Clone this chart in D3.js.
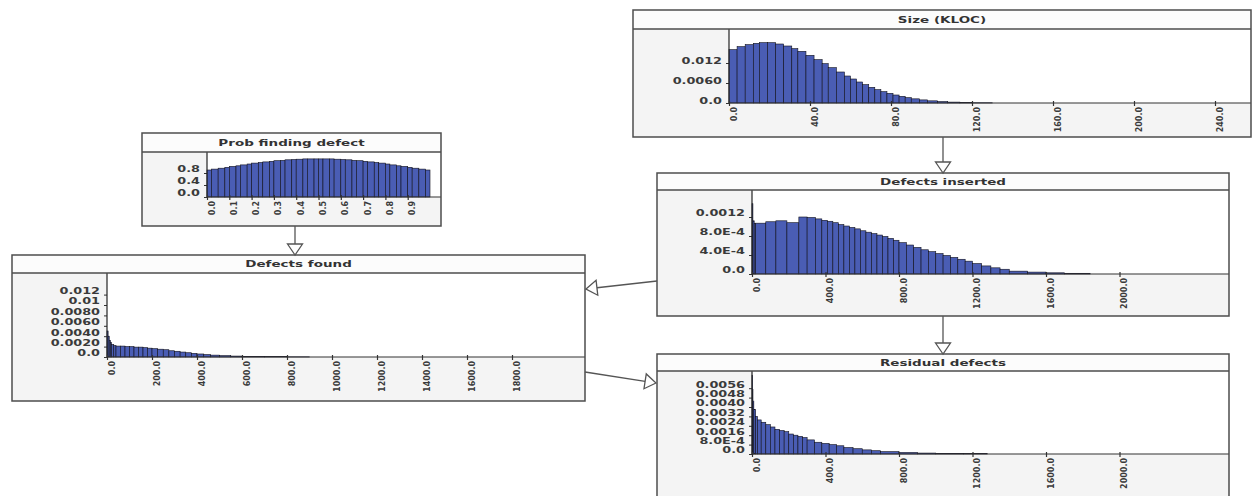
<!DOCTYPE html>
<html>
<head>
<meta charset="utf-8">
<script src="https://cdn.jsdelivr.net/npm/d3@7"></script>
<style>
  html, body { margin: 0; padding: 0; background: #ffffff; }
  svg { display: block; }
</style>
</head>
<body>
<svg id="chart" width="1257" height="496"></svg>
<script>
// ---------------- DATA ----------------
// Size (KLOC)
const sizeEdges = [0,4,8,12,15,19,23,27,31,34,38,42,46,49,53,57,60,63,66,69,72,75,78,81,84,87,90,94,98,103,108,114,120,130];
const sizeDensity = [0.0160,0.0169,0.0175,0.0179,0.0181,0.0181,0.0177,0.0171,0.0163,0.0155,0.0143,0.0130,0.0118,0.0106,0.0093,0.0081,0.0072,0.0063,0.0055,0.0047,0.0040,0.0034,0.0029,0.0024,0.0020,0.0016,0.00125,0.00093,0.00065,0.00043,0.00027,0.00015,0.00007];
const sizeXTicks = [0,40,80,120,160,200,240];
const sizeXLabels = ["0.0","40.0","80.0","120.0","160.0","200.0","240.0"];
const sizeYTicks = [0,0.006,0.012];
const sizeYLabels = ["0.0","0.0060","0.012"];

// Prob finding defect
const probEdges = [0,0.02,0.05,0.08,0.1,0.13,0.15,0.18,0.2,0.23,0.25,0.28,0.3,0.33,0.35,0.38,0.4,0.43,0.45,0.48,0.5,0.52,0.55,0.57,0.6,0.62,0.65,0.67,0.7,0.72,0.75,0.77,0.8,0.82,0.85,0.87,0.9,0.92,0.95,0.98,1.0];
const probDensity = [0.90,0.93,0.96,0.99,1.02,1.04,1.07,1.10,1.13,1.15,1.17,1.19,1.21,1.22,1.24,1.25,1.26,1.27,1.27,1.27,1.27,1.27,1.27,1.26,1.25,1.24,1.22,1.21,1.19,1.17,1.15,1.13,1.10,1.07,1.04,1.02,0.99,0.96,0.93,0.90];
const probXTicks = [0,0.1,0.2,0.3,0.4,0.5,0.6,0.7,0.8,0.9];
const probXLabels = ["0.0","0.1","0.2","0.3","0.4","0.5","0.6","0.7","0.8","0.9"];
const probYTicks = [0,0.4,0.8];
const probYLabels = ["0.0","0.4","0.8"];

// Defects found
const foundEdges = [0,5,10,15,20,30,40,60,80,100,120,140,160,180,200,225,250,275,300,325,350,375,400,430,460,500,550,600,700,800,900];
const foundDensity = [0.0050,0.0040,0.0032,0.0028,0.0024,0.0022,0.0021,0.0021,0.0020,0.0020,0.0019,0.0019,0.0018,0.0017,0.0016,0.0015,0.0014,0.0012,0.0011,0.00095,0.00082,0.0007,0.00058,0.00047,0.00036,0.00026,0.00018,0.00011,0.00006,0.00003];
const foundXTicks = [0,200,400,600,800,1000,1200,1400,1600,1800];
const foundXLabels = ["0.0","200.0","400.0","600.0","800.0","1000.0","1200.0","1400.0","1600.0","1800.0"];
const foundYTicks = [0,0.002,0.004,0.006,0.008,0.01,0.012];
const foundYLabels = ["0.0","0.0020","0.0040","0.0060","0.0080","0.01","0.012"];

// Defects inserted
const insertedEdges = [0,5,12,20,75,130,190,255,300,345,380,410,440,470,500,530,560,590,620,650,680,710,740,770,800,840,880,920,960,1000,1040,1080,1120,1160,1200,1250,1300,1350,1400,1500,1600,1700,1840];
const insertedDensity = [0.00148,0.00112,0.00106,0.00107,0.00110,0.00112,0.00108,0.00120,0.00119,0.00116,0.00113,0.00111,0.00108,0.00104,0.00101,0.00098,0.00095,0.00091,0.00088,0.00085,0.00082,0.00079,0.00075,0.00071,0.00066,0.00061,0.00056,0.00051,0.00047,0.00043,0.00039,0.00035,0.00031,0.00027,0.00022,0.00017,0.00013,0.0001,0.00006,0.00004,0.000025,0.000015];
const insertedXTicks = [0,400,800,1200,1600,2000];
const insertedXLabels = ["0.0","400.0","800.0","1200.0","1600.0","2000.0"];
const insertedYTicks = [0,0.0004,0.0008,0.0012];
const insertedYLabels = ["0.0","4.0E-4","8.0E-4","0.0012"];

// Residual defects
const residualEdges = [0,2,5,10,20,30,50,75,100,125,150,175,200,225,250,275,300,340,380,420,460,500,550,600,650,700,800,900,1000,1150,1280];
const residualDensity = [0.0067,0.0055,0.0045,0.0038,0.0032,0.0029,0.0027,0.0025,0.0023,0.0021,0.0020,0.0019,0.0017,0.0016,0.0015,0.0014,0.0012,0.0010,0.0009,0.0008,0.0007,0.00055,0.00045,0.00035,0.00028,0.0002,0.00013,0.00008,0.00005,0.00003];
const residualXTicks = [0,400,800,1200,1600,2000];
const residualXLabels = ["0.0","400.0","800.0","1200.0","1600.0","2000.0"];
const residualYTicks = [0,0.0008,0.0016,0.0024,0.0032,0.004,0.0048,0.0056];
const residualYLabels = ["0.0","8.0E-4","0.0016","0.0024","0.0032","0.0040","0.0048","0.0056"];

// ---------------- DRAWING ----------------
const svg = d3.select("#chart");
const FONT = "'DejaVu Sans', Verdana, sans-serif";
const BORDER = "#4d4d4d";

function drawNode(cfg) {
  const g = svg.append("g");
  const w = cfg.right - cfg.left, h = cfg.bottom - cfg.top;

  g.append("rect").attr("x", cfg.left).attr("y", cfg.top).attr("width", w).attr("height", h)
    .attr("fill", "#f4f4f4");
  g.append("rect").attr("x", cfg.left).attr("y", cfg.top).attr("width", w).attr("height", cfg.sep - cfg.top)
    .attr("fill", "#fcfcfc");
  g.append("rect").attr("x", cfg.axisX).attr("y", cfg.sep).attr("width", cfg.right - cfg.axisX)
    .attr("height", cfg.base - cfg.sep).attr("fill", "#ffffff");

  const x = d3.scaleLinear().domain([0, cfg.xMax]).range([cfg.axisX, cfg.xMaxPx]);
  const yMax = cfg.yTicks[cfg.yTicks.length - 1];
  const y = d3.scaleLinear().domain([0, yMax]).range([cfg.base, cfg.yMaxPx]);

  const bins = cfg.values.map((v, i) => ({ x0: cfg.edges[i], x1: cfg.edges[i + 1], v: v }));
  g.append("g").selectAll("rect").data(bins).join("rect")
    .attr("x", d => x(d.x0))
    .attr("width", d => Math.max(0.6, x(d.x1) - x(d.x0)))
    .attr("y", d => y(d.v))
    .attr("height", d => cfg.base - y(d.v))
    .attr("fill", "#4a5db4")
    .attr("stroke", "#10101c")
    .attr("stroke-width", 0.6);

  // Y axis
  const ya = g.append("g").attr("transform", `translate(${cfg.axisX},0)`)
    .call(d3.axisLeft(y).tickValues(cfg.yTicks).tickFormat((d, i) => cfg.yLabels[i]).tickSize(3).tickSizeOuter(0));
  ya.select(".domain").remove();
  ya.selectAll(".tick line").attr("stroke", "#333");
  ya.selectAll(".tick text")
    .attr("font-family", FONT).attr("font-size", 8).attr("font-weight", "bold").attr("fill", "#3a3a3a")
    .attr("text-anchor", "end")
    .attr("x", -7 / 1.6).attr("y", -cfg.lift).attr("dy", "0.35em")
    .attr("transform", "scale(1.6,1)");
  g.append("line").attr("x1", cfg.axisX).attr("x2", cfg.axisX).attr("y1", cfg.sep).attr("y2", cfg.base)
    .attr("stroke", "#222").attr("stroke-width", 1.2);

  // X axis
  const xa = g.append("g").attr("transform", `translate(0,${cfg.base})`)
    .call(d3.axisBottom(x).tickValues(cfg.xTicks).tickFormat((d, i) => cfg.xLabels[i]).tickSize(3).tickSizeOuter(0));
  xa.select(".domain").remove();
  xa.selectAll(".tick line").attr("stroke", "#333").attr("y1", -2).attr("stroke-width", 1.2);
  xa.selectAll(".tick text")
    .attr("font-family", FONT).attr("font-size", 8).attr("font-weight", "bold").attr("fill", "#3a3a3a")
    .attr("text-anchor", "end")
    .attr("transform", "rotate(-90)")
    .attr("x", -4).attr("y", 7).attr("dy", 0);
  g.append("line").attr("x1", cfg.axisX).attr("x2", cfg.right).attr("y1", cfg.base).attr("y2", cfg.base)
    .attr("stroke", "#333").attr("stroke-width", 1.2);

  // Title
  g.append("line").attr("x1", cfg.left).attr("x2", cfg.right).attr("y1", cfg.sep).attr("y2", cfg.sep)
    .attr("stroke", BORDER).attr("stroke-width", 1.3);
  g.append("g").attr("transform", `translate(${(cfg.left + cfg.right) / 2},${(cfg.top + cfg.sep) / 2}) scale(1.5,1)`)
    .append("text").attr("text-anchor", "middle").attr("dy", "0.35em")
    .attr("font-family", FONT).attr("font-size", 9).attr("font-weight", "bold").attr("fill", "#333")
    .text(cfg.title);

  // Border
  g.append("rect").attr("x", cfg.left).attr("y", cfg.top).attr("width", w).attr("height", h)
    .attr("fill", "none").attr("stroke", BORDER).attr("stroke-width", 1.5);
}

function arrow(x1, y1, x2, y2) {
  const L = 11, W = 7.5;
  const dx = x2 - x1, dy = y2 - y1, len = Math.hypot(dx, dy);
  const ux = dx / len, uy = dy / len;
  const bx = x2 - ux * L, by = y2 - uy * L;
  svg.append("line").attr("x1", x1).attr("y1", y1).attr("x2", bx).attr("y2", by)
    .attr("stroke", "#555").attr("stroke-width", 1.3);
  const pts = [[x2, y2], [bx - uy * W, by + ux * W], [bx + uy * W, by - ux * W]];
  svg.append("polygon").attr("points", pts.map(p => p.join(",")).join(" "))
    .attr("fill", "#fff").attr("stroke", "#555").attr("stroke-width", 1.3);
}

drawNode({ title: "Size (KLOC)", left: 633, right: 1251, top: 10, sep: 29, bottom: 137,
  axisX: 729, base: 103, xMax: 240, xMaxPx: 1215, yMaxPx: 63, lift: 2,
  edges: sizeEdges, values: sizeDensity, xTicks: sizeXTicks, xLabels: sizeXLabels,
  yTicks: sizeYTicks, yLabels: sizeYLabels });

drawNode({ title: "Prob finding defect", left: 142, right: 441, top: 133, sep: 152, bottom: 226,
  axisX: 207, base: 197, xMax: 1, xMaxPx: 430, yMaxPx: 173, lift: 4,
  edges: probEdges, values: probDensity, xTicks: probXTicks, xLabels: probXLabels,
  yTicks: probYTicks, yLabels: probYLabels });

drawNode({ title: "Defects found", left: 12, right: 585, top: 255, sep: 273, bottom: 401,
  axisX: 107, base: 357, xMax: 1800, xMaxPx: 512, yMaxPx: 294.6, lift: 4,
  edges: foundEdges, values: foundDensity, xTicks: foundXTicks, xLabels: foundXLabels,
  yTicks: foundYTicks, yLabels: foundYLabels });

drawNode({ title: "Defects inserted", left: 657, right: 1229, top: 173, sep: 190, bottom: 316,
  axisX: 752, base: 274, xMax: 2000, xMaxPx: 1119.5, yMaxPx: 217, lift: 4,
  edges: insertedEdges, values: insertedDensity, xTicks: insertedXTicks, xLabels: insertedXLabels,
  yTicks: insertedYTicks, yLabels: insertedYLabels });

drawNode({ title: "Residual defects", left: 657, right: 1229, top: 354, sep: 371, bottom: 499,
  axisX: 752, base: 454, xMax: 2000, xMaxPx: 1119.5, yMaxPx: 388.2, lift: 4,
  edges: residualEdges, values: residualDensity, xTicks: residualXTicks, xLabels: residualXLabels,
  yTicks: residualYTicks, yLabels: residualYLabels });

arrow(943, 137, 943, 173);
arrow(943, 316, 943, 354);
arrow(295, 226, 295, 255);
arrow(657, 281, 586, 289);
arrow(585, 372, 656, 383);
</script>
</body>
</html>
